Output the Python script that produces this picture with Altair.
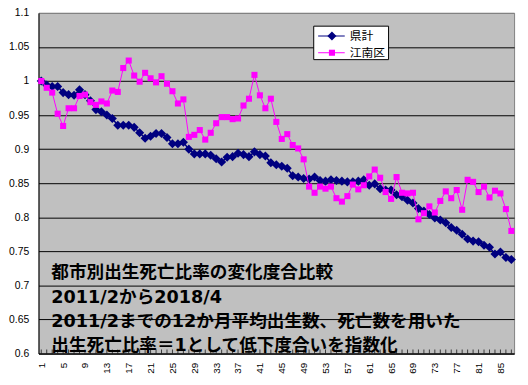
import altair as alt
import pandas as pd

# ---------------- data ----------------
months = list(range(1, 88))

kenkei = [1.000, 0.994, 0.992, 0.992, 0.983, 0.980, 0.979, 0.987, 0.980, 0.971,
          0.958, 0.955, 0.950, 0.945, 0.935, 0.935, 0.935, 0.932, 0.924, 0.916,
          0.919, 0.923, 0.923, 0.917, 0.908, 0.908, 0.910, 0.900, 0.893, 0.893,
          0.893, 0.891, 0.886, 0.881, 0.888, 0.889, 0.894, 0.892, 0.889, 0.896,
          0.892, 0.890, 0.880, 0.877, 0.875, 0.872, 0.861, 0.859, 0.857, 0.856,
          0.859, 0.854, 0.853, 0.855, 0.854, 0.853, 0.852, 0.852, 0.853, 0.855,
          0.847, 0.849, 0.842, 0.840, 0.840, 0.833, 0.830, 0.825, 0.821, 0.813,
          0.809, 0.804, 0.799, 0.796, 0.792, 0.785, 0.781, 0.775, 0.768, 0.765,
          0.764, 0.759, 0.756, 0.746, 0.749, 0.741, 0.738]

konan = [1.000, 0.990, 0.983, 0.952, 0.934, 0.960, 0.960, 0.978, 0.980, 0.969,
         0.965, 0.970, 0.967, 0.986, 0.984, 1.019, 1.030, 1.008, 0.999, 1.012,
         1.004, 0.998, 1.007, 0.996, 0.985, 0.967, 0.973, 0.918, 0.921, 0.928,
         0.914, 0.924, 0.938, 0.947, 0.947, 0.944, 0.945, 0.964, 0.974, 1.009,
         0.979, 0.960, 0.974, 0.940, 0.915, 0.922, 0.906, 0.901, 0.885, 0.845,
         0.836, 0.845, 0.842, 0.845, 0.828, 0.823, 0.831, 0.848, 0.841, 0.847,
         0.860, 0.870, 0.858, 0.837, 0.827, 0.859, 0.836, 0.835, 0.836, 0.797,
         0.806, 0.816, 0.807, 0.824, 0.838, 0.828, 0.840, 0.811, 0.855, 0.852,
         0.837, 0.845, 0.829, 0.839, 0.835, 0.812, 0.780]

series_names = ["県計", "江南区"]
y_ticks = [0.6, 0.65, 0.7, 0.75, 0.8, 0.85, 0.9, 0.95, 1.0, 1.05, 1.1]
x_label_values = list(range(1, 88, 4))
annotation_lines = [
    "都市別出生死亡比率の変化度合比較",
    "2011/2から2018/4",
    "2011/2までの12か月平均出生数、死亡数を用いた",
    "出生死亡比率＝1として低下度合いを指数化",
]

df_ken = pd.DataFrame({"month": months, "value": kenkei, "series": series_names[0]})
df_kon = pd.DataFrame({"month": months, "value": konan, "series": series_names[1]})
df_ticks = pd.DataFrame({"month": months, "value": [y_ticks[0]] * len(months)})
df_one = pd.DataFrame({"k": [0]})

NAVY = "#000080"
PINK = "#FF00FF"
AXIS_FONT = "Liberation Sans"
CJK_FONT = "Noto Sans CJK JP"
ANNOT_FONT = "DejaVu Sans, Noto Sans CJK JP"

W, H = 483, 346

xscale = alt.Scale(domain=[0.5, 87.5], nice=False, zero=False)
yscale = alt.Scale(domain=[0.6, 1.1], nice=False, zero=False)

x_axis = alt.Axis(values=x_label_values, labelAngle=270, labelAlign="right",
                  labelBaseline="middle", labelFont=AXIS_FONT, labelFontSize=10,
                  labelColor="black", labelPadding=9, ticks=False, grid=False,
                  domainColor="black", domainWidth=1, title=None,
                  labelFlush=False, labelOverlap=False)
y_axis = alt.Axis(values=y_ticks, format="~g", grid=True,
                  gridColor={"condition": {"test": "datum.value > 1.09", "value": "#808080"},
                             "value": "black"},
                  gridWidth=1, ticks=False, domainColor="black", domainWidth=1,
                  labelFont=AXIS_FONT, labelFontSize=10.5, labelColor="black",
                  labelPadding=10, title=None, labelFlush=False, labelOverlap=False)

X = alt.X("month:Q", scale=xscale, axis=x_axis)
Y = alt.Y("value:Q", scale=yscale, axis=y_axis)

ken_line = alt.Chart(df_ken).mark_line(color=NAVY, strokeWidth=1.5).encode(x=X, y=Y)
ken_pts = alt.Chart(df_ken).mark_point(shape="diamond", filled=True, size=85,
                                       color=NAVY, opacity=1).encode(x=X, y=Y)
kon_line = alt.Chart(df_kon).mark_line(color=PINK, strokeWidth=1).encode(x=X, y=Y)
kon_pts = alt.Chart(df_kon).mark_point(shape="square", filled=True, size=38,
                                       color=PINK, opacity=1).encode(x=X, y=Y)

ticks = alt.Chart(df_ticks).mark_tick(orient="vertical", size=4, thickness=1,
                                      color="black", yOffset=-2).encode(x=X, y=Y)

annot = alt.Chart(df_one).mark_text(
    text="\n".join(annotation_lines), lineBreak="\n", lineHeight=24.7,
    align="left", baseline="alphabetic", font=ANNOT_FONT, fontSize=17.9,
    fontWeight="bold", color="black").encode(x=alt.value(13), y=alt.value(269.5))

# legend (decoration)
leg_box = alt.Chart(df_one).mark_rect(fill="white", stroke="black", strokeWidth=1).encode(
    x=alt.value(279.5), x2=alt.value(355.5), y=alt.value(13.5), y2=alt.value(47.5))
leg_layers = [leg_box]
for name, color, shape, size, yy in [(series_names[0], NAVY, "diamond", 85, 23.5),
                                     (series_names[1], PINK, "square", 38, 40.5)]:
    leg_layers.append(alt.Chart(df_one).mark_rule(color=color, strokeWidth=1).encode(
        x=alt.value(284), x2=alt.value(311), y=alt.value(yy)))
    leg_layers.append(alt.Chart(df_one).mark_point(shape=shape, filled=True, size=size,
                                                   color=color, opacity=1).encode(
        x=alt.value(298), y=alt.value(yy)))
    leg_layers.append(alt.Chart(df_one).mark_text(
        text=name, align="left", baseline="middle", font=CJK_FONT, fontSize=12,
        color="black").encode(x=alt.value(316), y=alt.value(yy)))

chart = alt.layer(ken_line, ken_pts, kon_line, kon_pts, ticks, annot, *leg_layers).properties(
    width=W, height=H,
    autosize=alt.AutoSizeParams(type="none"),
    padding={"left": 31, "top": 2, "right": 6, "bottom": 29},
    background="white",
).configure_view(fill="#C0C0C0", stroke="#808080", strokeWidth=1)

chart.save("out.html", embed_options={"renderer": "svg", "actions": False})
